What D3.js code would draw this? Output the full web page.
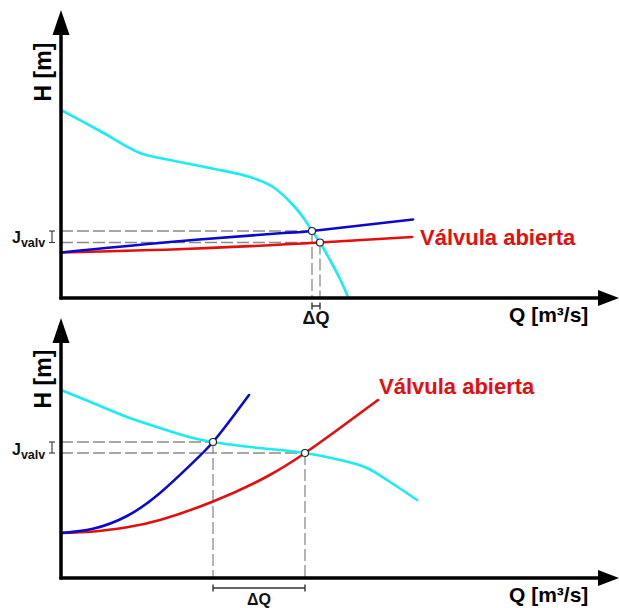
<!DOCTYPE html>
<html>
<head>
<meta charset="utf-8">
<script src="https://cdn.jsdelivr.net/npm/d3@7"></script>
<style>
  body { margin: 0; background: #fff; }
  svg { display: block; font-family: "Liberation Sans", Arial, sans-serif; font-weight: bold; }
</style>
</head>
<body>
<svg width="619" height="608"></svg>
<script>
// ---- top panel: flat system curves (valve closed = blue, valve open = red)
const topPumpQ = [0, 7.8, 15.8, 19.8, 29.8, 37.8, 42.4, 46.4, 48.8, 50.2, 51.8, 53.8, 55.8, 57.4];
const topPumpH = [75.2, 66.8, 58, 56, 52, 48.4, 44.4, 37.2, 31.2, 26.8, 22.2, 15.2, 7.6, 0.4];
const topClosedQ = [0, 21.8, 43.8, 50.2, 70.4];
const topClosedH = [18.2, 22.4, 25.9, 26.8, 31.4];
const topOpenQ = [0, 25.8, 51.8, 70.2];
const topOpenH = [18.2, 19.7, 22.2, 24.4];
const topOpQ = [50.2, 51.8];
const topOpH = [26.8, 22.2];

// ---- bottom panel: steep system curves
const botPumpQ = [0, 6.4, 13.2, 19.8, 26.4, 30.4, 37.8, 48.8, 55.8, 61.2, 65.2, 71.2];
const botPumpH = [75.2, 70, 64.4, 60, 56, 54.4, 52.4, 50, 47.2, 44, 39.2, 31.2];
const botClosedQ = [0, 6.4, 13.2, 19.8, 26.4, 30.4, 34.4, 37.6];
const botClosedH = [18, 19.7, 24.8, 34, 46.2, 54.4, 64.6, 73.2];
const botOpenQ = [0, 6.6, 13.2, 19.8, 30.4, 41.2, 48.8, 55.8, 63.4];
const botOpenH = [18, 18.6, 20.3, 23.2, 30.6, 40.6, 50, 60, 71.2];
const botOpQ = [30.4, 48.8];
const botOpH = [54.4, 50];

const openLabel = "Válvula abierta";
const xLabel = "Q [m³/s]";
const yLabel = "H [m]";

const svg = d3.select("svg");
svg.append("rect").attr("width", 619).attr("height", 608).attr("fill", "#fff");

const zip = (qs, hs) => qs.map((q, i) => ({ q, h: hs[i] }));

function drawPanel(p) {
    const x = d3.scaleLinear().domain([0, 110]).range([61, 611]);
    const y = d3.scaleLinear().domain([0, 110]).range([p.y0, p.y0 - 275]);
    const g = svg.append("g");

    const lineFor = curve => d3.line()
        .curve(curve)
        .x(d => x(d.q))
        .y(d => y(d.h));

    const ops = zip(p.opQ, p.opH);

    // dashed guides
    const guides = g.append("g")
        .attr("stroke", "#8a8a8a")
        .attr("stroke-width", 1.3)
        .attr("stroke-dasharray", "12,4")
        .attr("fill", "none");
    ops.forEach(d => {
        guides.append("line")
            .attr("x1", x(0)).attr("x2", x(d.q))
            .attr("y1", y(d.h)).attr("y2", y(d.h));
        guides.append("line")
            .attr("x1", x(d.q)).attr("x2", x(d.q))
            .attr("y1", y(d.h)).attr("y2", y(0));
    });

    // curves
    [[p.pump, "#19ecf2", d3.curveCatmullRom.alpha(0.5)],
     [p.open, "#e30f0f", p.sysCurve],
     [p.closed, "#0a0acf", p.sysCurve]].forEach(([data, col, curve]) => {
        g.append("path")
            .attr("d", lineFor(curve)(data))
            .attr("fill", "none")
            .attr("stroke", col)
            .attr("stroke-width", 2.6)
            .attr("stroke-linecap", "round");
    });

    // operating points
    g.selectAll("circle.op")
        .data(ops)
        .enter()
        .append("circle")
        .attr("cx", d => x(d.q))
        .attr("cy", d => y(d.h))
        .attr("r", 3.5)
        .attr("fill", "#fff")
        .attr("stroke", "#222")
        .attr("stroke-width", 1.2);

    // axes with arrow heads
    g.append("line")
        .attr("x1", x(0)).attr("x2", x(0))
        .attr("y1", y(0) + 1.5).attr("y2", p.tip + 20)
        .attr("stroke", "#000").attr("stroke-width", 3.5);
    g.append("path")
        .attr("d", `M${x(0)},${p.tip} L${x(0) - 8.5},${p.tip + 25} L${x(0) + 8.5},${p.tip + 25} Z`)
        .attr("fill", "#000");
    g.append("line")
        .attr("x1", x(0) - 1.5).attr("x2", 602)
        .attr("y1", y(0)).attr("y2", y(0))
        .attr("stroke", "#000").attr("stroke-width", 3.5);
    g.append("path")
        .attr("d", `M619,${y(0)} L598,${y(0) - 8} L598,${y(0) + 8} Z`)
        .attr("fill", "#000");

    // J_valv bracket
    const jx = 52;
    const bk = g.append("g").attr("stroke", "#333").attr("stroke-width", 1.1);
    bk.append("line").attr("x1", jx).attr("x2", jx).attr("y1", y(ops[0].h)).attr("y2", y(ops[1].h));
    ops.forEach(d => bk.append("line").attr("x1", jx - 3).attr("x2", jx + 3).attr("y1", y(d.h)).attr("y2", y(d.h)));

    const jt = g.append("text")
        .attr("x", 12)
        .attr("y", p.jBase)
        .attr("font-size", 16)
        .attr("fill", "#111");
    jt.append("tspan").text("J");
    jt.append("tspan").attr("font-size", 12.5).attr("dy", 4).text("valv");

    // delta Q bracket
    const by = y(0) + p.dqOff;
    const dq = g.append("g").attr("stroke", "#333").attr("stroke-width", 1.4);
    dq.append("line").attr("x1", x(ops[0].q)).attr("x2", x(ops[1].q)).attr("y1", by).attr("y2", by);
    ops.forEach(d => dq.append("line").attr("x1", x(d.q)).attr("x2", x(d.q)).attr("y1", by - 3.5).attr("y2", by + 3.5));

    g.append("text")
        .attr("x", (x(ops[0].q) + x(ops[1].q)) / 2)
        .attr("y", y(0) + p.dqText)
        .attr("text-anchor", "middle")
        .attr("font-size", p.dqSize)
        .attr("fill", "#111")
        .text("ΔQ");

    // axis labels
    g.append("text")
        .attr("transform", `translate(51,${p.hY}) rotate(-90)`)
        .attr("text-anchor", "middle")
        .attr("font-size", 23)
        .attr("fill", "#000")
        .text(yLabel);
    g.append("text")
        .attr("x", 509)
        .attr("y", y(0) + 24)
        .attr("font-size", 21)
        .attr("fill", "#000")
        .text(xLabel);

    g.append("text")
        .attr("x", p.lblX)
        .attr("y", p.lblY)
        .attr("font-size", 22)
        .attr("fill", "#e30f0f")
        .text(openLabel);
}

drawPanel({
    y0: 298, tip: 10,
    pump: zip(topPumpQ, topPumpH),
    closed: zip(topClosedQ, topClosedH),
    open: zip(topOpenQ, topOpenH),
    opQ: topOpQ, opH: topOpH,
    sysCurve: d3.curveNatural,
    jBase: 243, dqOff: 8, dqText: 26, dqSize: 18,
    hY: 72, lblX: 420, lblY: 245
});

drawPanel({
    y0: 578, tip: 318,
    pump: zip(botPumpQ, botPumpH),
    closed: zip(botClosedQ, botClosedH),
    open: zip(botOpenQ, botOpenH),
    opQ: botOpQ, opH: botOpH,
    sysCurve: d3.curveNatural,
    jBase: 455, dqOff: 10, dqText: 27, dqSize: 16,
    hY: 379, lblX: 379, lblY: 394
});
</script>
</body>
</html>
